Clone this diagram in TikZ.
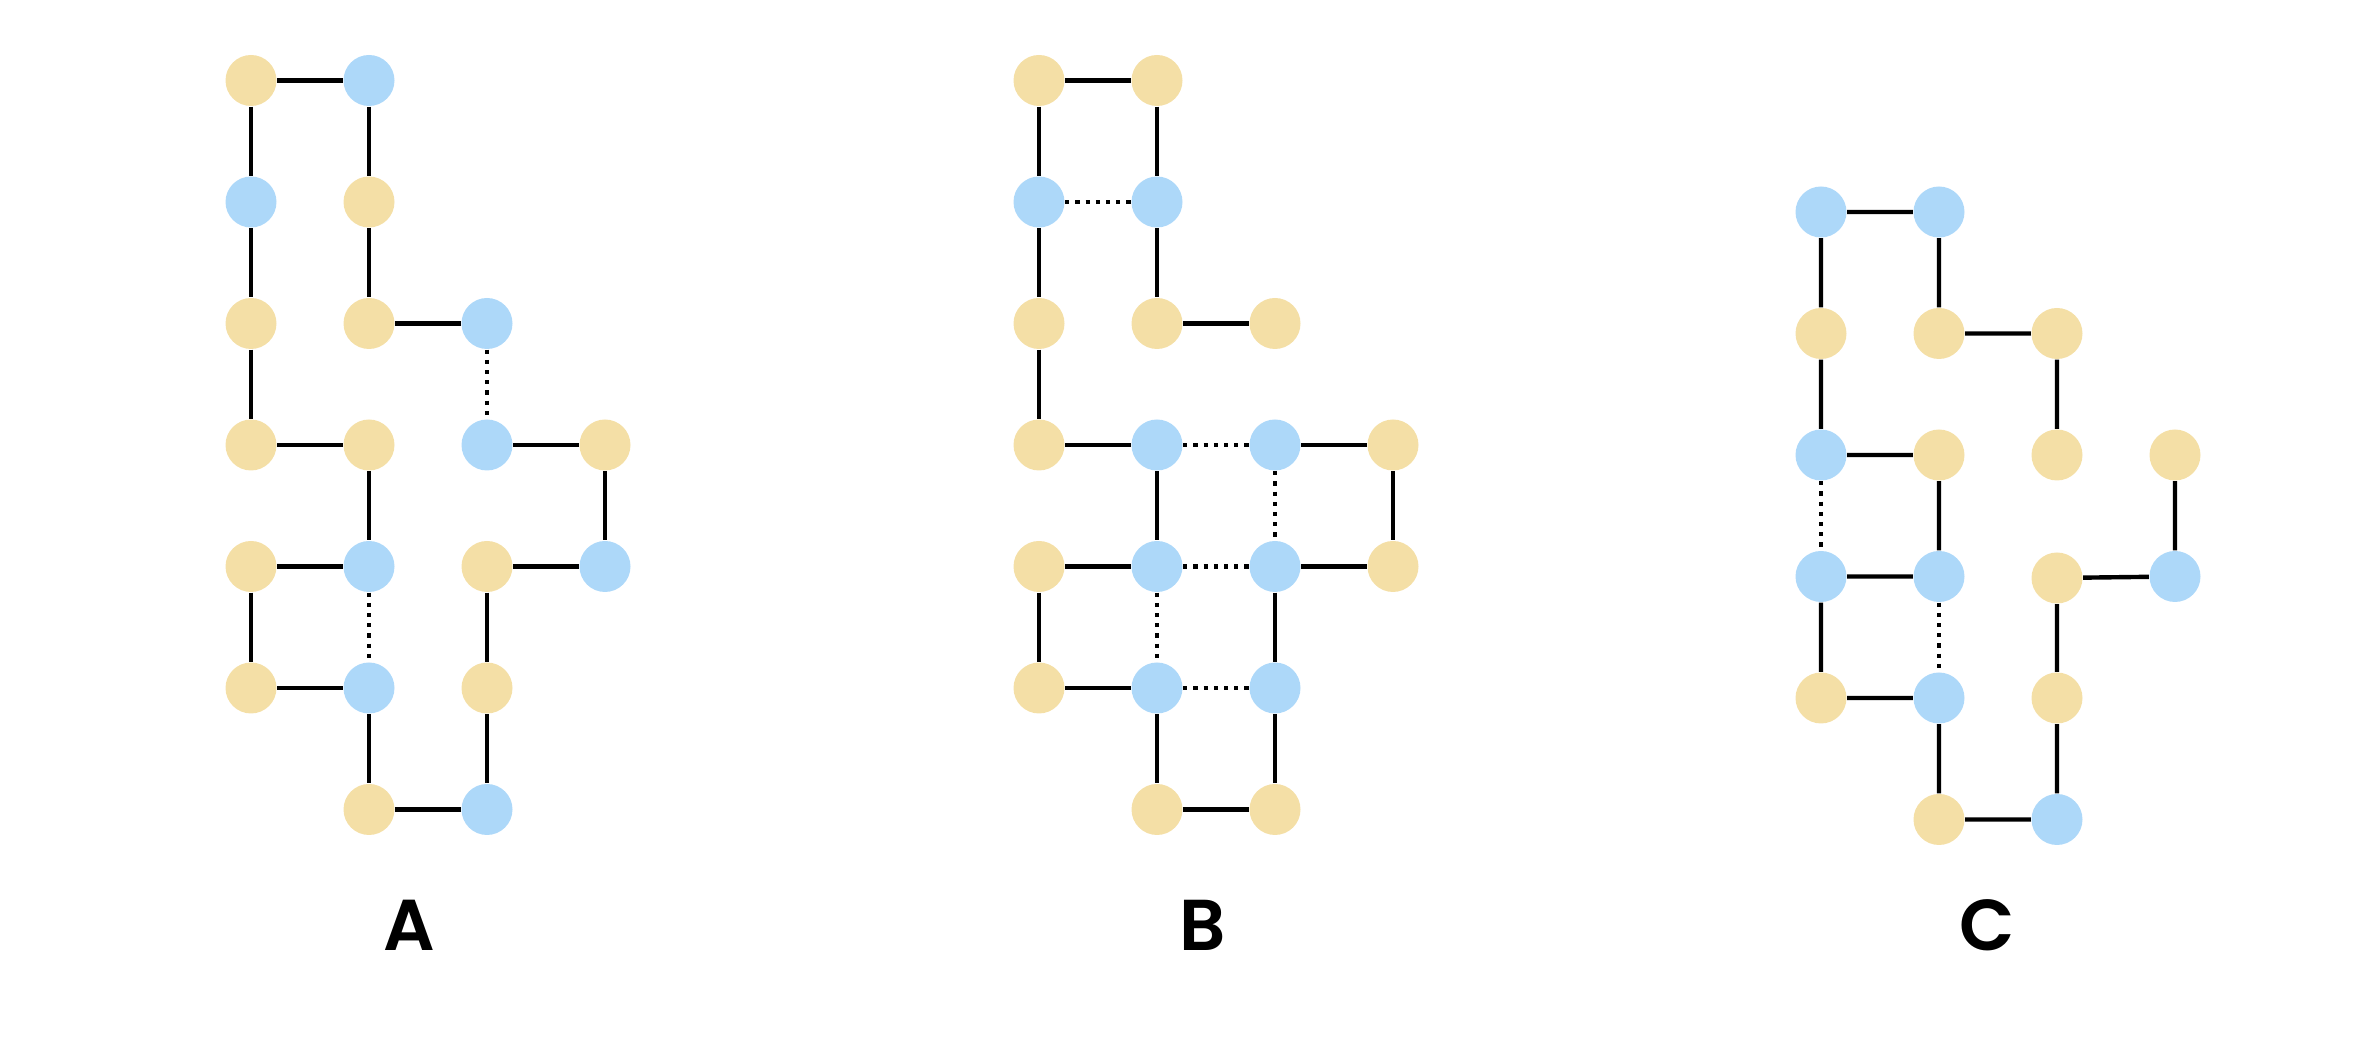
\documentclass[tikz,border=0pt]{standalone}
\usepackage{fontspec}
\setmainfont{Poppins}[BoldFont={Poppins SemiBold}]
\definecolor{sand}{HTML}{F4DFA6}
\definecolor{sky}{HTML}{ADD8F9}
\tikzset{
  site/.style={circle,minimum size=5.1mm,inner sep=0pt},
  ysite/.style={site,fill=sand},
  bsite/.style={site,fill=sky},
  bond/.style={line width=0.44mm},
  weak/.style={line width=0.44mm,dash pattern=on 0.42mm off 0.6mm},
  tag/.style={font=\fontsize{20.5}{24}\selectfont\bfseries,anchor=base}
}
\begin{document}
\begin{tikzpicture}[x=1cm,y=1cm]
\useasboundingbox (0,0) rectangle (23.54,10.42);
% panel A
\node[ysite] (a11) at (2.51,9.615) {};
\node[bsite] (a12) at (3.69,9.615) {};
\node[bsite] (a21) at (2.51,8.40) {};
\node[ysite] (a22) at (3.69,8.40) {};
\node[ysite] (a31) at (2.51,7.185) {};
\node[ysite] (a32) at (3.69,7.185) {};
\node[bsite] (a33) at (4.87,7.185) {};
\node[ysite] (a41) at (2.51,5.97) {};
\node[ysite] (a42) at (3.69,5.97) {};
\node[bsite] (a43) at (4.87,5.97) {};
\node[ysite] (a44) at (6.05,5.97) {};
\node[ysite] (a51) at (2.51,4.755) {};
\node[bsite] (a52) at (3.69,4.755) {};
\node[ysite] (a53) at (4.87,4.755) {};
\node[bsite] (a54) at (6.05,4.755) {};
\node[ysite] (a61) at (2.51,3.54) {};
\node[bsite] (a62) at (3.69,3.54) {};
\node[ysite] (a63) at (4.87,3.54) {};
\node[ysite] (a72) at (3.69,2.325) {};
\node[bsite] (a73) at (4.87,2.325) {};
\draw[bond] (a11) -- (a12) (a11) -- (a21) (a12) -- (a22) (a21) -- (a31) (a22) -- (a32)
  (a32) -- (a33) (a31) -- (a41) (a41) -- (a42) (a42) -- (a52) (a43) -- (a44) (a44) -- (a54)
  (a51) -- (a52) (a53) -- (a54) (a51) -- (a61) (a53) -- (a63) (a61) -- (a62) (a62) -- (a72)
  (a63) -- (a73) (a72) -- (a73);
\draw[weak] (a33) -- (a43) (a52) -- (a62);
\node[tag] (la) at (4.09,0.91) {A};
% panel B
\node[ysite] (b11) at (10.39,9.615) {};
\node[ysite] (b12) at (11.57,9.615) {};
\node[bsite] (b21) at (10.39,8.40) {};
\node[bsite] (b22) at (11.57,8.40) {};
\node[ysite] (b31) at (10.39,7.185) {};
\node[ysite] (b32) at (11.57,7.185) {};
\node[ysite] (b33) at (12.75,7.185) {};
\node[ysite] (b41) at (10.39,5.97) {};
\node[bsite] (b42) at (11.57,5.97) {};
\node[bsite] (b43) at (12.75,5.97) {};
\node[ysite] (b44) at (13.93,5.97) {};
\node[ysite] (b51) at (10.39,4.755) {};
\node[bsite] (b52) at (11.57,4.755) {};
\node[bsite] (b53) at (12.75,4.755) {};
\node[ysite] (b54) at (13.93,4.755) {};
\node[ysite] (b61) at (10.39,3.54) {};
\node[bsite] (b62) at (11.57,3.54) {};
\node[bsite] (b63) at (12.75,3.54) {};
\node[ysite] (b72) at (11.57,2.325) {};
\node[ysite] (b73) at (12.75,2.325) {};
\draw[bond] (b11) -- (b12) (b11) -- (b21) (b12) -- (b22) (b21) -- (b31) (b22) -- (b32)
  (b32) -- (b33) (b31) -- (b41) (b41) -- (b42) (b43) -- (b44) (b42) -- (b52) (b44) -- (b54)
  (b51) -- (b52) (b53) -- (b54) (b51) -- (b61) (b53) -- (b63) (b61) -- (b62) (b62) -- (b72)
  (b63) -- (b73) (b72) -- (b73);
\draw[weak] (b21) -- (b22) (b42) -- (b43) (b43) -- (b53) (b52) -- (b53) (b52) -- (b62)
  (b62) -- (b63);
\node[tag] (lb) at (12.03,0.91) {B};
% panel C
\node[bsite] (c11) at (18.21,8.30) {};
\node[bsite] (c12) at (19.39,8.30) {};
\node[ysite] (c21) at (18.21,7.085) {};
\node[ysite] (c22) at (19.39,7.085) {};
\node[ysite] (c23) at (20.57,7.085) {};
\node[bsite] (c31) at (18.21,5.87) {};
\node[ysite] (c32) at (19.39,5.87) {};
\node[ysite] (c33) at (20.57,5.87) {};
\node[ysite] (c34) at (21.75,5.87) {};
\node[bsite] (c41) at (18.21,4.655) {};
\node[bsite] (c42) at (19.39,4.655) {};
\node[ysite] (c43) at (20.57,4.64) {};
\node[bsite] (c44) at (21.75,4.655) {};
\node[ysite] (c51) at (18.21,3.44) {};
\node[bsite] (c52) at (19.39,3.44) {};
\node[ysite] (c53) at (20.57,3.44) {};
\node[ysite] (c62) at (19.39,2.225) {};
\node[bsite] (c63) at (20.57,2.225) {};
\draw[bond] (c11) -- (c12) (c11) -- (c21) (c12) -- (c22) (c22) -- (c23) (c21) -- (c31)
  (c23) -- (c33) (c31) -- (c32) (c32) -- (c42) (c34) -- (c44) (c41) -- (c42) (c43) -- (c44)
  (c41) -- (c51) (c43) -- (c53) (c51) -- (c52) (c52) -- (c62) (c53) -- (c63) (c62) -- (c63);
\draw[weak] (c31) -- (c41) (c42) -- (c52);
\node[tag] (lc) at (19.87,0.91) {C};
\end{tikzpicture}
\end{document}
